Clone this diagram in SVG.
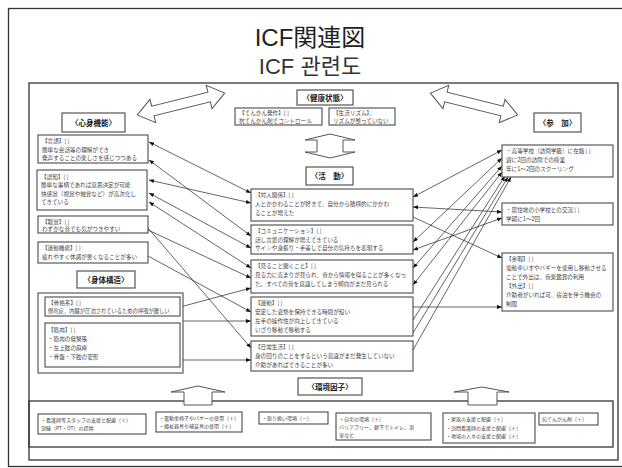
<svg xmlns="http://www.w3.org/2000/svg" width="622" height="468" viewBox="0 0 622 468">
<style>
.frame{fill:none;stroke:#333;stroke-width:1.3}
.box{fill:#fff;stroke:#4a4a4a;stroke-width:1.1}
.hdr{fill:#fff;stroke:#555;stroke-width:1.2}
.t{font-family:"Noto Sans CJK JP","Noto Sans",sans-serif;font-size:5.6px;fill:#444}
.e{font-family:"Noto Sans CJK JP","Noto Sans",sans-serif;font-size:5px;fill:#444}
.h{font-family:"Noto Sans CJK JP",sans-serif;font-size:7.5px;font-weight:bold;fill:#222;text-anchor:middle}
.c{stroke:#222;stroke-width:0.7;fill:none}
.blk{fill:#fff;stroke:#555;stroke-width:1}
.title{font-family:"Liberation Sans","Noto Sans CJK JP",sans-serif;font-size:24px;fill:#222;text-anchor:middle}
.title2{font-family:"Liberation Sans","Noto Sans CJK KR",sans-serif;font-size:22px;fill:#333;text-anchor:middle}
</style>
<defs>
<marker id="ah" viewBox="0 0 10 10" refX="10" refY="5" markerWidth="5" markerHeight="5" markerUnits="userSpaceOnUse" orient="auto-start-reverse"><path d="M0,1 L10,5 L0,9z" fill="#111"/></marker>
<polygon id="dbl" points="-45,0 -29,-12 -29,-5 29,-5 29,-12 45,0 29,12 29,5 -29,5 -29,12"/>
</defs>
<rect width="622" height="468" fill="#fff"/>
<rect class="frame" x="8.5" y="8.5" width="640" height="458"/>
<text class="title" x="310" y="46">ICF関連図</text>
<text class="title2" x="310" y="74">ICF 관련도</text>
<rect class="frame" x="29" y="83" width="589" height="377"/>

<g id="arrows-block">
<use href="#dbl" class="blk" transform="translate(181,104) rotate(-14)"/>
<use href="#dbl" class="blk" transform="translate(474,104) rotate(14)"/>
<polygon class="blk" points="305,140 330,134 355,140 343,140 343,152 355,152 330,158 305,152 317,152 317,140"/>
</g>

<g id="env-frame">
<rect class="frame" x="29" y="401" width="584" height="46"/>
<polygon class="blk" points="171,392 198,386 225,392 212,392 212,405 184,405 184,392"/>
<polygon class="blk" points="454,392 482,387 509,392 497,392 497,405 468,405 468,392"/>
</g>

<g id="connectors">
<line class="c" x1="149" y1="142" x2="251" y2="193" marker-start="url(#ah)" marker-end="url(#ah)"/>
<line class="c" x1="149" y1="160" x2="251" y2="236" marker-start="url(#ah)" marker-end="url(#ah)"/>
<line class="c" x1="149" y1="180" x2="251" y2="203" marker-start="url(#ah)" marker-end="url(#ah)"/>
<line class="c" x1="149" y1="193" x2="251" y2="248" marker-start="url(#ah)" marker-end="url(#ah)"/>
<line class="c" x1="149" y1="202" x2="251" y2="268" marker-start="url(#ah)" marker-end="url(#ah)"/>
<line class="c" x1="148" y1="228" x2="251" y2="348" marker-end="url(#ah)"/>
<line class="c" x1="148" y1="230" x2="251" y2="278" marker-end="url(#ah)"/>
<line class="c" x1="148" y1="256" x2="251" y2="312" marker-end="url(#ah)"/>
<line class="c" x1="180" y1="307" x2="251" y2="288" marker-end="url(#ah)"/>
<line class="c" x1="183" y1="321" x2="251" y2="321" marker-end="url(#ah)"/>
<line class="c" x1="180" y1="360" x2="251" y2="360" marker-end="url(#ah)"/>
<line class="c" x1="413" y1="197" x2="502" y2="150" marker-start="url(#ah)" marker-end="url(#ah)"/>
<line class="c" x1="413" y1="207" x2="502" y2="212" marker-start="url(#ah)" marker-end="url(#ah)"/>
<line class="c" x1="413" y1="217" x2="502" y2="258" marker-end="url(#ah)"/>
<line class="c" x1="413" y1="242" x2="502" y2="158" marker-start="url(#ah)" marker-end="url(#ah)"/>
<line class="c" x1="413" y1="250" x2="502" y2="218" marker-start="url(#ah)" marker-end="url(#ah)"/>
<line class="c" x1="413" y1="268" x2="502" y2="166" marker-start="url(#ah)" marker-end="url(#ah)"/>
<line class="c" x1="413" y1="285" x2="502" y2="172" marker-start="url(#ah)" marker-end="url(#ah)"/>
<line class="c" x1="413" y1="307" x2="502" y2="307" marker-end="url(#ah)"/>
<line class="c" x1="413" y1="320" x2="505" y2="176" marker-end="url(#ah)"/>
<line class="c" x1="413" y1="333" x2="508" y2="177" marker-end="url(#ah)"/>
<line class="c" x1="413" y1="350" x2="511" y2="177" marker-end="url(#ah)"/>
</g>

<g id="hdr-shinshin"><rect class="hdr" x="62" y="113" width="63" height="19"/><text class="h" x="93.5" y="125.5">〈心身機能〉</text></g>
<g id="hdr-kenko"><rect class="hdr" x="297" y="90" width="56" height="15"/><text class="h" x="325" y="100.5">〈健康状態〉</text></g>
<g id="hdr-katsudo"><rect class="hdr" x="306" y="167" width="47" height="18"/><text class="h" x="329.5" y="179">〈活　動〉</text></g>
<g id="hdr-sanka"><rect class="hdr" x="534" y="113" width="47" height="19"/><text class="h" x="557.5" y="125.5">〈参　加〉</text></g>
<g id="hdr-shintai"><rect class="hdr" x="77" y="271" width="58" height="17"/><text class="h" x="106" y="282.5">〈身体構造〉</text></g>
<g id="hdr-kankyo"><rect class="hdr" x="298" y="378" width="64" height="17"/><text class="h" x="330" y="389.5">〈環境因子〉</text></g>

<g id="health1"><rect class="box" x="235" y="108" width="87" height="17"/><text class="t" x="239" y="115">【てんかん発作】[ ]</text><text class="t" x="239" y="122.5">抗てんかん剤でコントロール</text></g>
<g id="health2"><rect class="box" x="329" y="108" width="66" height="17"/><text class="t" x="333" y="115">【生活リズム】、</text><text class="t" x="333" y="122.5">リズムが整っていない</text></g>

<g id="m-gengo"><rect class="box" x="38" y="135" width="110" height="28"/><text class="t" x="42" y="143">【言語】[ ]</text><text class="t" x="42" y="151.5">簡単な会話等の理解ができ</text><text class="t" x="42" y="160">発声することの楽しさを感じつつある</text></g>
<g id="m-ninchi"><rect class="box" x="37" y="170" width="110" height="40" stroke-width="1.6"/><text class="t" x="41" y="178.5">【認知】[ ]</text><text class="t" x="41" y="187">簡単な事柄であれば意思決定が可能</text><text class="t" x="41" y="195.5">快感覚（視覚や触覚など）が高次化し</text><text class="t" x="41" y="204">てきている</text></g>
<g id="m-chokaku"><rect class="box" x="38" y="216" width="110" height="17"/><text class="t" x="42" y="223.5">【聴覚】[ ]</text><text class="t" x="42" y="231">わずかな音でも気がつきやすい</text></g>
<g id="m-undokino"><rect class="box" x="38" y="242" width="110" height="21"/><text class="t" x="42" y="250">【運動機能】[ ]</text><text class="t" x="42" y="259">疲れやすく体調が悪くなることが多い</text></g>

<g id="s-body"><rect class="box" x="38" y="293" width="145" height="80"/>
<rect class="box" x="45" y="297" width="135" height="19"/><text class="t" x="48" y="304.5">【骨格系】[ ]</text><text class="t" x="48" y="313" style="font-size:5.3px">側弯症、内臓が圧迫されているための呼吸が難しい</text>
<rect class="box" x="45" y="323" width="135" height="44"/><text class="t" x="48" y="331.5">【筋肉】[ ]</text><text class="t" x="48" y="340.5">・筋肉の低緊張</text><text class="t" x="48" y="349.5">・左上肢の麻痺</text><text class="t" x="48" y="358.5">・骨盤・下肢の変形</text></g>

<g id="a-taijin"><rect class="box" x="251" y="189" width="162" height="32"/><text class="t" x="255" y="197">【対人関係】[ ]</text><text class="t" x="255" y="206">人とかかわることが好きで、自分から積極的にかかわ</text><text class="t" x="255" y="215">ることが増えた</text></g>
<g id="a-comm"><rect class="box" x="251" y="225" width="162" height="29"/><text class="t" x="255" y="233">【コミュニケーション】[ ]</text><text class="t" x="255" y="241.5">話し言葉の理解が増えてきている</text><text class="t" x="255" y="250">サインや身振り・手差しで自分の気持ちを表現する</text></g>
<g id="a-miru"><rect class="box" x="251" y="260" width="162" height="33"/><text class="t" x="255" y="268">【見ること聞くこと】[ ]</text><text class="t" x="255" y="277">見る力に高まりが見られ、音から情報を得ることが多くなっ</text><text class="t" x="255" y="286">た。すべての音を意識してしまう傾向がまだ見られる</text></g>
<g id="a-undo"><rect class="box" x="251" y="297" width="162" height="39"/><text class="t" x="255" y="305">【運動】[ ]</text><text class="t" x="255" y="314">安定した姿勢を保持できる時間が短い</text><text class="t" x="255" y="323">左手の操作性が向上してきている</text><text class="t" x="255" y="332">いざり移動で移動する</text></g>
<g id="a-nichijo"><rect class="box" x="251" y="341" width="162" height="30"/><text class="t" x="255" y="349">【日常生活】[ ]</text><text class="t" x="255" y="358">身の回りのことをするという意識がまだ発生していない</text><text class="t" x="255" y="367">介助があればできることが多い</text></g>

<g id="p-gakko"><rect class="box" x="502" y="145" width="111" height="32"/><text class="t" x="506" y="153">・高等学校（訪問学級）に在籍 [ ]</text><text class="t" x="506" y="162">週に2回の訪問での授業</text><text class="t" x="506" y="171">年に1～2回のスクーリング</text></g>
<g id="p-koryu"><rect class="box" x="502" y="203" width="111" height="22"/><text class="t" x="506" y="211.5">・居住地の小学校との交流 [ ]</text><text class="t" x="506" y="220.5">学期に1～2回</text></g>
<g id="p-yoka"><rect class="box" x="502" y="253" width="111" height="58"/><text class="t" x="506" y="261">【余暇】[ ]</text><text class="t" x="506" y="270">電動車いすやバギーを使用し移動させる</text><text class="t" x="506" y="279">ことで外出は、音楽鑑賞の利用</text><text class="t" x="506" y="288">【外出】[ ]</text><text class="t" x="506" y="297">介助者がいれば可、宿泊を伴う機会の</text><text class="t" x="506" y="306">制限</text></g>

<g id="e1"><rect class="box" x="38" y="414" width="108" height="20"/><text class="e" x="41" y="421.5">・看護師等スタッフの支援と配慮（＋）</text><text class="e" x="41" y="430">訓練（PT・OT）の提供</text></g>
<g id="e2"><rect class="box" x="156" y="412" width="86" height="20"/><text class="e" x="159" y="419.5">・電動車椅子やバギーの使用（＋）</text><text class="e" x="159" y="428">・福祉器具や補装具の使用（＋）</text></g>
<g id="e3"><rect class="box" x="259" y="412" width="69" height="12"/><text class="e" x="262" y="420">・取り扱い環境（－）</text></g>
<g id="e4"><rect class="box" x="336" y="413" width="95" height="27"/><text class="e" x="339" y="420.5">・自宅の環境（＋）</text><text class="e" x="339" y="428.5">バリアフリー、廊下でトイレ、浴</text><text class="e" x="339" y="436.5">室など</text></g>
<g id="e5"><rect class="box" x="443" y="413" width="92" height="30"/><text class="e" x="446" y="421">・家族の支援と配慮（＋）</text><text class="e" x="446" y="429.5">・訪問看護師の支援と配慮（＋）</text><text class="e" x="446" y="438">・地域の人々の支援と配慮（＋）</text></g>
<g id="e6"><rect class="box" x="539" y="413" width="59" height="12"/><text class="e" x="542" y="421">抗てんかん剤（＋）</text></g>
</svg>
